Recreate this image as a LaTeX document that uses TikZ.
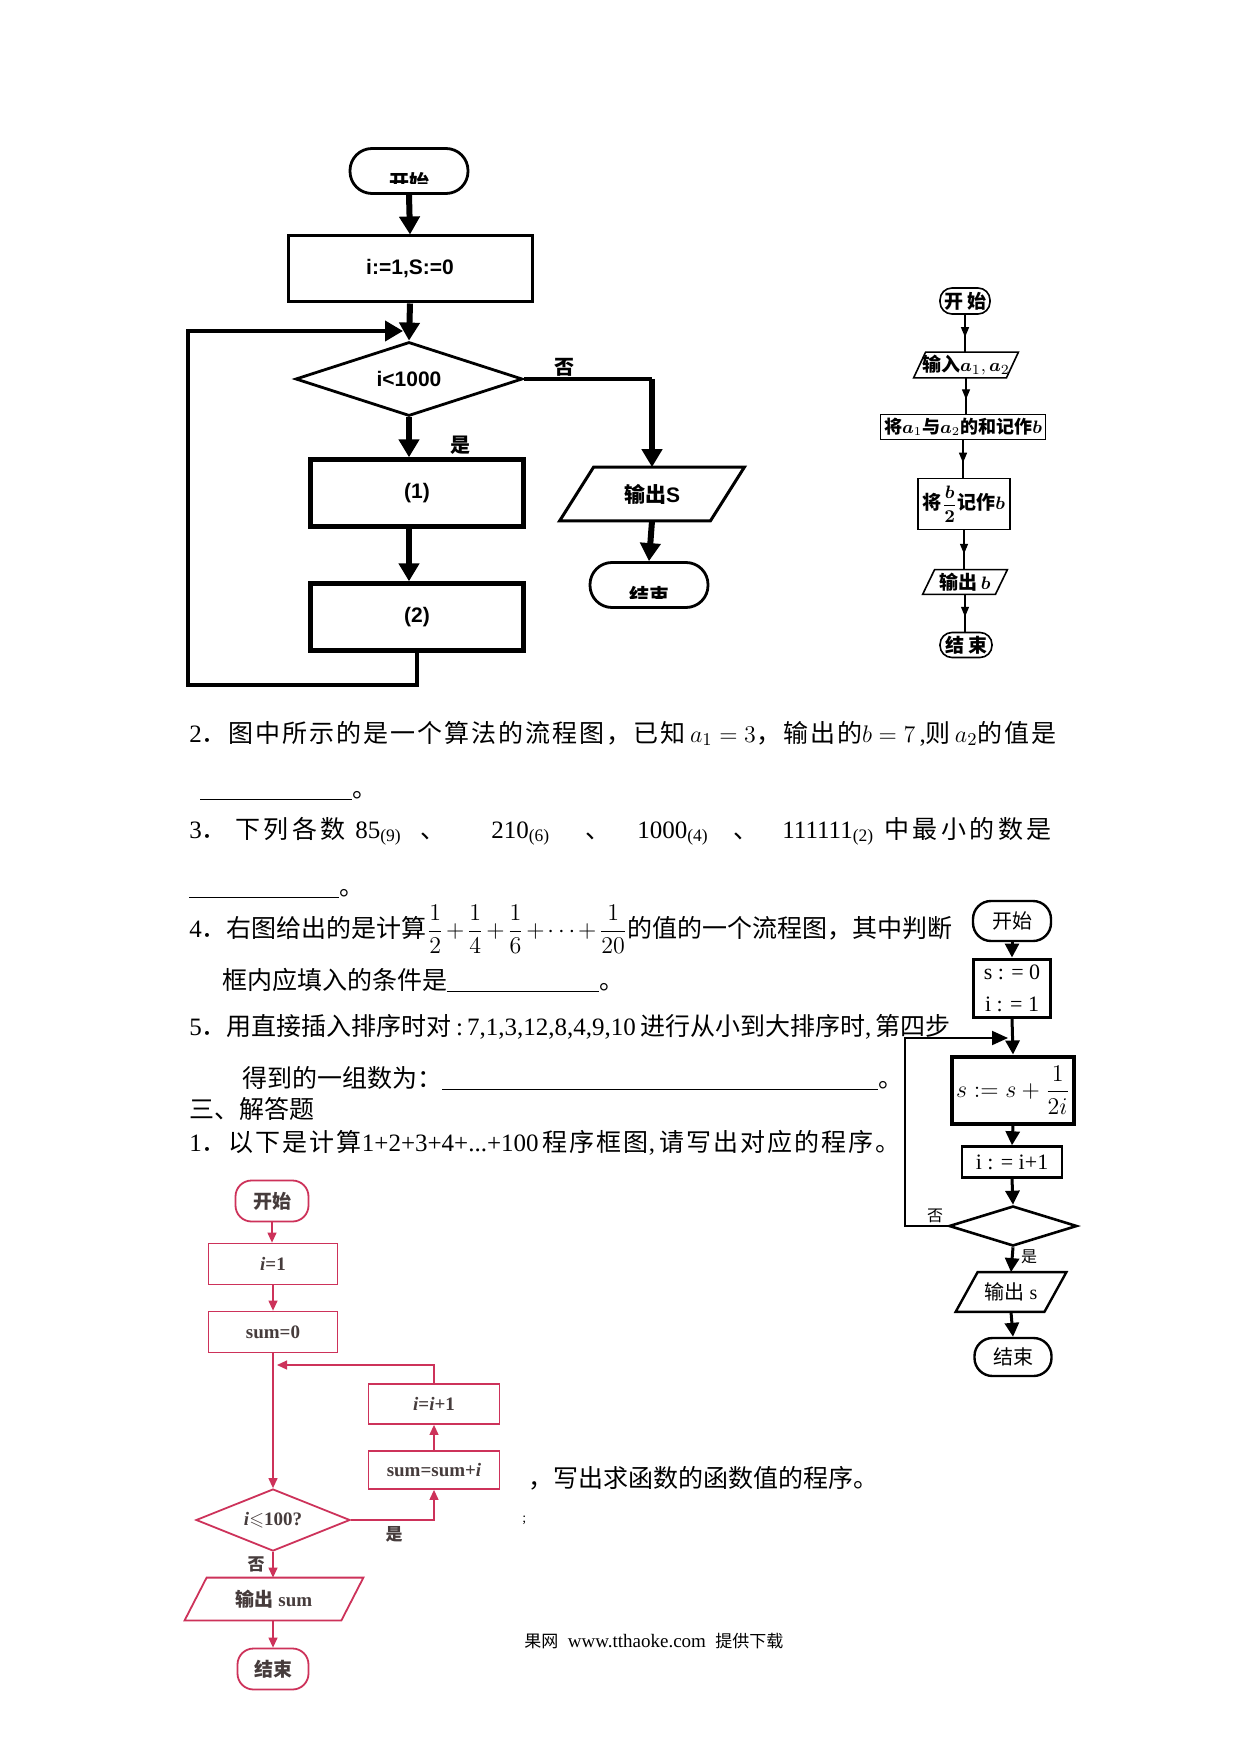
\documentclass[tikz,border=0pt]{standalone}
\usepackage{amssymb}
\usepackage{bm}
\usepackage{fontspec}
\setmainfont{Liberation Serif}
\newfontfamily\cjk{Noto Sans CJK SC}
\newfontfamily\cjkA[LetterSpace=8]{Noto Sans CJK SC}
\newfontfamily\cjkB[LetterSpace=14]{Noto Sans CJK SC}
\newfontfamily\cjkC[LetterSpace=8]{Noto Sans CJK SC}
\newfontfamily\arial{Liberation Sans}
\usetikzlibrary{shapes.geometric,arrows.meta,calc}
\newcommand\zh[1]{{\cjk #1}}
\newcommand\zha[1]{{\cjkA #1}}
\newcommand\zhb[1]{{\cjkB #1}}
\newcommand\zhc[1]{{\cjkC #1}}
\newcommand\paradraw[3]{\draw[#1] ($(#2.north west)+(#3,0)$) -- (#2.north east) -- ($(#2.south east)+(-#3,0)$) -- (#2.south west) -- cycle;}
\newcommand\blank[1]{\rule[-1.5pt]{#1}{0.6pt}}
\definecolor{redline}{RGB}{205,50,90}
\definecolor{redtext}{RGB}{70,60,60}
\begin{document}
\begin{tikzpicture}[x=0.5pt,y=-0.5pt,
  body/.style={anchor=base west,inner sep=0pt,font=\fontsize{12.5}{15}\selectfont},
  tl/.style={font=\arial\bfseries\fontsize{10.5}{12}\selectfont},
  tlcj/.style={font=\cjk\bfseries\fontsize{10}{12}\selectfont},
  tlbox/.style={draw,line width=1.5pt,inner sep=0pt,tl},
  tlterm/.style={draw,line width=1.4pt,rounded corners=11pt,minimum width=59pt,minimum height=22.5pt,inner sep=0pt},
  tlarrow/.style={line width=3pt,-{Triangle[width=10pt,length=9pt]}},
  tlline/.style={line width=2pt,line join=miter},
  trbox/.style={draw,line width=0.8pt,inner sep=0pt,font=\cjk\bfseries\fontsize{9.5}{11}\selectfont},
  trterm/.style={trbox,rounded corners=6pt},
  trline/.style={line width=0.6pt},
  trarrow/.style={line width=0.6pt,-{Triangle[width=4pt,length=5pt]}},
  qbox/.style={draw,line width=1.5pt,inner sep=0pt,font=\fontsize{11}{14}\selectfont},
  qterm/.style={draw,line width=1.2pt,rounded corners=9pt,inner sep=0pt,font=\cjk\fontsize{10}{12}\selectfont},
  qarrow/.style={line width=1.5pt,-{Triangle[width=7pt,length=7pt]}},
  qline/.style={line width=1pt},
  rbox/.style={draw=redline,line width=0.9pt,inner sep=0pt,text=redtext,font=\bfseries\fontsize{9.5}{11}\selectfont},
  rterm/.style={rbox,rounded corners=8pt},
  rline/.style={draw=redline,line width=0.6pt},
  rarrow/.style={draw=redline,line width=0.6pt,-{Triangle[width=4.5pt,length=5pt]},redline},
  lbl/.style={inner sep=0pt}
]
\useasboundingbox (0,0) rectangle (1240,1754);
\fill[white] (0,0) rectangle (1240,1754);

% ---------------- top-left flowchart ----------------
\node[tlterm] (s1) at (409,171) {};
\begin{scope}
  \clip (350,150) rectangle (465,184);
  \node[tlcj] at (409,182) {开始};
\end{scope}
\node[tlbox,minimum width=122pt,minimum height=33pt] (init) at (410,269) {i:=1,S:=0};
\node[draw,diamond,line width=1.4pt,minimum width=113.5pt,minimum height=37pt,inner sep=0pt,shape aspect=3,tl] (d1) at (409,379) {i<1000};
\node[tlbox,line width=2.2pt,minimum width=106.5pt,minimum height=33.5pt] (b1) at (417,493) {(1)};
\node[tlbox,line width=2.2pt,minimum width=106.5pt,minimum height=33.5pt] (b2) at (417,617) {(2)};
\node[minimum width=92pt,minimum height=26.5pt,inner sep=0pt,tl] (out1) at (652,494) {\zh{输出}S};
\paradraw{line width=1.5pt}{out1}{34}
\node[tlterm] (e1) at (649,585) {};
\begin{scope}
  \clip (590,560) rectangle (710,598);
  \node[tlcj] at (649,596) {结束};
\end{scope}
\node[tlcj,lbl] (yes1) at (460,445) {是};
\node[tlcj,lbl] (no1) at (564,367) {否};
\coordinate (lp1) at (188,685);
\coordinate (lp2) at (188,331);
\coordinate (lp3) at (403,331);
\coordinate (rb) at (652,379);
\draw[tlarrow] (s1.south) -- (init.north);
\draw[tlarrow] (init.south) -- (d1.north);
\draw[tlarrow] (d1.south) -- (d1.south |- b1.north);
\draw[tlarrow] (b1.south -| d1.south) -- (d1.south |- b2.north);
\draw[tlline,-{Triangle[width=10pt,length=9pt]}] (b2.south) |- (lp1) -- (lp2) -- (lp3);
\draw[tlline] (d1.east) -- (rb);
\draw[tlarrow] (rb) -- (out1.north);
\draw[tlarrow] (out1.south) -- (e1.north);

% ---------------- top-right flowchart ----------------
\node[trterm,minimum width=25pt,minimum height=13pt] (tr1) at (965,301) {开\hspace{2pt}始};
\node[inner sep=0pt,minimum width=52pt,minimum height=12.5pt,font=\cjk\bfseries\fontsize{9.5}{11}\selectfont] (tr2) at (966,365) {输入$\bm{a}_{1},\bm{a}_{2}$};
\paradraw{line width=0.8pt}{tr2}{12}
\node[trbox,minimum width=82.5pt,minimum height=12.5pt,font=\cjk\bfseries\fontsize{9}{11}\selectfont] (tr3) at (963,427) {将$\bm{a}_{1}$与$\bm{a}_{2}$的和记作$\bm{b}$};
\node[trbox,minimum width=46pt,minimum height=25.5pt] (tr4) at (964,504) {将$\displaystyle\bm{\frac{b}{2}}$记作$\bm{b}$};
\node[inner sep=0pt,minimum width=42pt,minimum height=12pt,font=\cjk\bfseries\fontsize{9.5}{11}\selectfont] (tr5) at (965,582) {输出\,$\bm{b}$};
\paradraw{line width=0.8pt}{tr5}{12}
\node[trterm,minimum width=26pt,minimum height=12.5pt] (tr6) at (966,645) {结\hspace{2pt}束};
\foreach \a/\b in {tr1/tr2,tr2/tr3,tr3/tr4,tr4/tr5,tr5/tr6}{
  \draw[trline] (\a.south) -- (\a.south |- \b.north);
  \draw[trarrow] (\a.south) -- ($(\a.south)!0.6!(\a.south |- \b.north)$);
}

% ---------------- text ----------------
\node[body] (l2) at (189,742) {2\zha{．图中所示的是一个算法的流程图，已知}\,$a_{1}=3$\zha{，输出的}$b=7$\,,\zha{则}\,$a_{2}$\zha{的值是}};
\node[body] (l2b) at (200,797) {\blank{76pt}\zh{。}};
\node[body] (l3a) at (189,838) {3\zh{．}};
\node[body] (l3b) at (235,838) {\zhb{下列各数}};
\node[body] (l3c) at (355,838) {85\textsubscript{(9)}};
\node[body] (l3d) at (420,838) {\zh{、}};
\node[body] (l3e) at (491,838) {210\textsubscript{(6)}};
\node[body] (l3f) at (585,838) {\zh{、}};
\node[body] (l3g) at (637,838) {1000\textsubscript{(4)}};
\node[body] (l3h) at (733,838) {\zh{、}};
\node[body] (l3i) at (782,838) {111111\textsubscript{(2)}};
\node[body] (l3j) at (884,838) {\zhb{中最小的数是}};
\node[body] (l3k) at (189,895) {\blank{75pt}\zh{。}};
\node[body] (l4) at (189,937) {4\zh{．右图给出的是计算}$\medmuskip=2mu\displaystyle\frac{1}{2}+\frac{1}{4}+\frac{1}{6}+\cdots+\frac{1}{20}$\zh{的值的一个流程图，其中判断}};
\node[body] (l4b) at (222,989) {\zh{框内应填入的条件是}\blank{76pt}\zh{。}};
\node[body] (l5) at (189,1035) {5\zh{．用直接插入排序时对}\,:\,7,1,3,12,8,4,9,10\,\zh{进行从小到大排序时},\,\zh{第四步}};
\node[body] (l5b) at (242,1087) {\zh{得到的一组数为：}\blank{218pt}\zh{。}};
\node[body] (s3) at (189,1118) {\zh{三、解答题}};
\node[body] (l1) at (189,1151) {1\zhc{．以下是计算}1+2+3+4+...+100\,\zhc{程序框图},\,\zhc{请写出对应的程序。}};
\node[body] (lf) at (528,1487) {\zh{，写出求函数的函数值的程序。}};
\node[body,font=\fontsize{7}{8}\selectfont] (semi) at (522,1522) {;};
\node[body,font=\fontsize{9.5}{11}\selectfont] (foot) at (524,1647) {{\cjk\fontsize{8.5}{10}\selectfont 果网}\enspace www.tthaoke.com\enspace{\cjk\fontsize{8.5}{10}\selectfont 提供下载}};

% ---------------- question 4 flowchart ----------------
\node[qterm,minimum width=39pt,minimum height=20pt] (q1) at (1012,921) {开始};
\node[qbox,minimum width=38.5pt,minimum height=29pt,align=center] (q2) at (1012,988) {s : = 0\\[2pt] i : = 1};
\node[qbox,line width=2pt,minimum width=61pt,minimum height=33.5pt,font=\fontsize{12}{14}\selectfont] (q3) at (1013,1090) {$\displaystyle s:=s+\frac{1}{2i}$};
\node[qbox,line width=1.2pt,minimum width=50pt,minimum height=15.5pt] (q4) at (1012,1162) {i : = i+1};
\node[draw,diamond,line width=1.3pt,minimum width=64pt,minimum height=20pt,inner sep=0pt,shape aspect=3.2] (q5) at (1013,1226) {};
\node[inner sep=0pt,minimum width=55pt,minimum height=19.5pt,font=\fontsize{10}{12}\selectfont] (q6) at (1011,1292) {\zh{输出} s};
\paradraw{line width=1.2pt}{q6}{22}
\node[qterm,minimum width=38.5pt,minimum height=19pt] (q7) at (1013,1357) {结束};
\node[lbl,font=\cjk\fontsize{8}{10}\selectfont] (qno) at (935,1216) {否};
\node[lbl,font=\cjk\fontsize{8}{10}\selectfont] (qyes) at (1029,1257) {是};
\coordinate (ql1) at (905,1226);
\coordinate (ql2) at (905,1038);
\coordinate (ql3) at (1008,1038);
\draw[qarrow] (q1.south) -- (q2.north);
\draw[qarrow] (q2.south) -- (q3.north);
\draw[qarrow] (q3.south) -- (q4.north);
\draw[qarrow] (q4.south) -- (q5.north);
\draw[qarrow] (q5.south) -- (q6.north);
\draw[qarrow] (q6.south) -- (q7.north);
\draw[qline,-{Triangle[width=7pt,length=8pt]}] (q5.west) -- (ql1) -- (ql2) -- (ql3);

% ---------------- red flowchart ----------------
\node[rterm,minimum width=36.5pt,minimum height=20.5pt,font=\cjk\bfseries\fontsize{9.5}{11}\selectfont] (r1) at (272,1201) {开始};
\node[rbox,minimum width=64.5pt,minimum height=20.5pt] (r2) at (273,1264) {\textit{i}=1};
\node[rbox,minimum width=64.5pt,minimum height=20.5pt] (r3) at (273,1332) {sum=0};
\node[rbox,minimum width=65.5pt,minimum height=20pt] (r4) at (434,1404) {\textit{i}=\textit{i}+1};
\node[rbox,minimum width=65.5pt,minimum height=19pt] (r5) at (434,1470) {sum=sum+\textit{i}};
\node[draw=redline,diamond,line width=0.9pt,minimum width=77pt,minimum height=31pt,inner sep=0pt,shape aspect=2.5,text=redtext,font=\bfseries\fontsize{9.5}{11}\selectfont] (r6) at (273,1520) {\textit{i}$\leqslant$100?};
\node[inner sep=0pt,minimum width=89pt,minimum height=21pt,text=redtext,font=\bfseries\fontsize{9.5}{11}\selectfont] (r7) at (274,1599) {\zh{输出} sum};
\paradraw{draw=redline,line width=0.9pt}{r7}{22}
\node[rterm,minimum width=35.5pt,minimum height=20.5pt,font=\cjk\bfseries\fontsize{9.5}{11}\selectfont] (r8) at (273,1669) {结束};
\node[lbl,text=redtext,font=\cjk\bfseries\fontsize{8.5}{10}\selectfont] (ryes) at (394,1534) {是};
\node[lbl,text=redtext,font=\cjk\bfseries\fontsize{8.5}{10}\selectfont] (rno) at (256,1564) {否};
\coordinate (rl1) at (434,1365);
\coordinate (rl2) at (277,1365);
\coordinate (rl3) at (434,1520);
\draw[rarrow] (r1.south) -- (r1.south |- r2.north);
\draw[rarrow] (r2.south) -- (r2.south |- r3.north);
\draw[rarrow] (r3.south -| r6.north) -- (r6.north);
\draw[rarrow] (r4.north) -- (rl1) -- (rl2);
\draw[rarrow] (r6.east) -- (rl3) -- (r5.south);
\draw[rarrow] (r5.north) -- (r4.south);
\draw[rarrow] (r6.south) -- (r6.south |- r7.north);
\draw[rarrow] (r7.south -| r6.south) -- (r6.south |- r8.north);
\end{tikzpicture}
\end{document}
